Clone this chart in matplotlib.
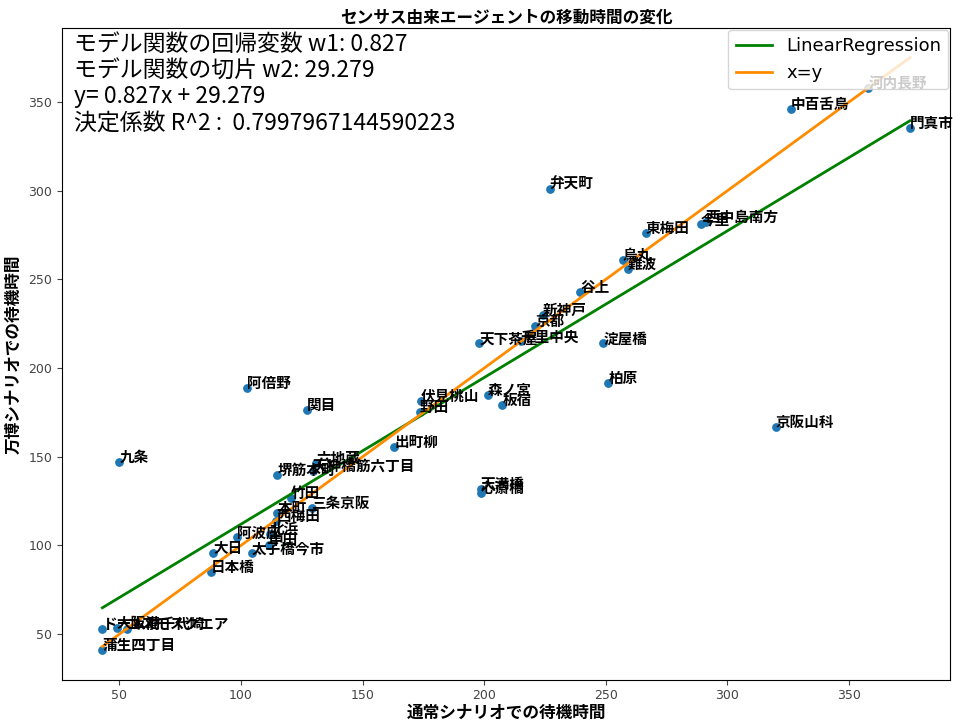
import numpy as np
import matplotlib.pyplot as plt

plt.rcParams['font.family'] = ['DejaVu Sans', 'Noto Sans CJK JP']

# -------------------------------------------------------
# Data (waiting time per station)
# -------------------------------------------------------
stations = [
    "河内長野", "中百舌鳥", "門真市", "弁天町", "東梅田", "今里", "西中島南方",
    "烏丸", "難波", "谷上", "新神戸", "京都", "天下茶屋", "千里中央", "淀屋橋",
    "柏原", "京阪山科", "森ノ宮", "板宿", "伏見桃山", "野田", "出町柳",
    "阿倍野", "関目", "六地蔵", "堺筋本町", "天神橋筋六丁目", "竹田",
    "三条京阪", "本町", "西梅田", "阿波座", "北浜", "中田", "太子橋今市",
    "大日", "日本橋", "九条", "天満橋", "心斎橋", "ドーム前千代崎", "大阪港",
    "コスモスクエア", "蒲生四丁目",
]
normal_wait = [
    358, 326, 375, 227, 266.5, 289, 291,
    257, 259, 239.5, 224, 221, 198, 215, 249,
    251, 320, 201.5, 207.5, 174, 173.5, 163,
    102.5, 127, 131, 115, 129.5, 120.5,
    129, 115, 114.5, 98.5, 112, 111.5, 104.5,
    88.5, 87.5, 50, 198.5, 198.5, 43, 49, 53,
    43,
]
expo_wait = [
    358, 346, 335.5, 301, 276, 281, 282.5,
    261, 256, 243, 230, 224, 214, 215, 214,
    191.5, 167, 185, 179, 181.5, 175, 155.5,
    189, 176.5, 146.5, 139.5, 142, 127,
    121, 118.5, 114, 104.5, 106.5, 100, 95.5,
    96, 85, 147, 132, 129.5, 53, 53.5, 53,
    41,
]

w1 = 0.827
w2 = 29.279
r2 = 0.7997967144590223

x = np.array(normal_wait)
y = np.array(expo_wait)

fig, ax = plt.subplots(figsize=(9.54, 7.2), dpi=100)
fig.subplots_adjust(left=0.065, right=0.996, top=0.961, bottom=0.056)

ax.scatter(x, y, s=28, color="#1f77b4")
for name, xi, yi in zip(stations, x, y):
    ax.annotate(name, (xi, yi), fontsize=10.5, fontweight="bold",
                family=['Noto Sans CJK JP'])

xs = np.array([x.min(), x.max()])
ax.plot(xs, w1 * xs + w2, color="green", lw=2, label="LinearRegression")
ax.plot(xs, xs, color="darkorange", lw=2, label="x=y")

# model summary in the top-left corner
info = (f"モデル関数の回帰変数 w1: {w1}\n"
        f"モデル関数の切片 w2: {w2}\n"
        f"y= {w1}x + {w2}\n"
        f"決定係数 R^2 :  {r2}")
ax.text(0.014, 0.992, info, transform=ax.transAxes, va="top", ha="left",
        fontsize=16.5, linespacing=1.17, family=['Noto Sans CJK JP'])

ax.legend(loc="upper right", fontsize=13, borderaxespad=0.1)
ax.tick_params(labelsize=9, colors="#444444")
ax.set_title("センサス由来エージェントの移動時間の変化", fontsize=12,
             fontweight="bold", pad=4)
ax.set_xlabel("通常シナリオでの待機時間", fontsize=12, fontweight="bold", labelpad=1)
ax.set_ylabel("万博シナリオでの待機時間", fontsize=12, fontweight="bold", labelpad=4)

fig.savefig("out.png", dpi=100)
